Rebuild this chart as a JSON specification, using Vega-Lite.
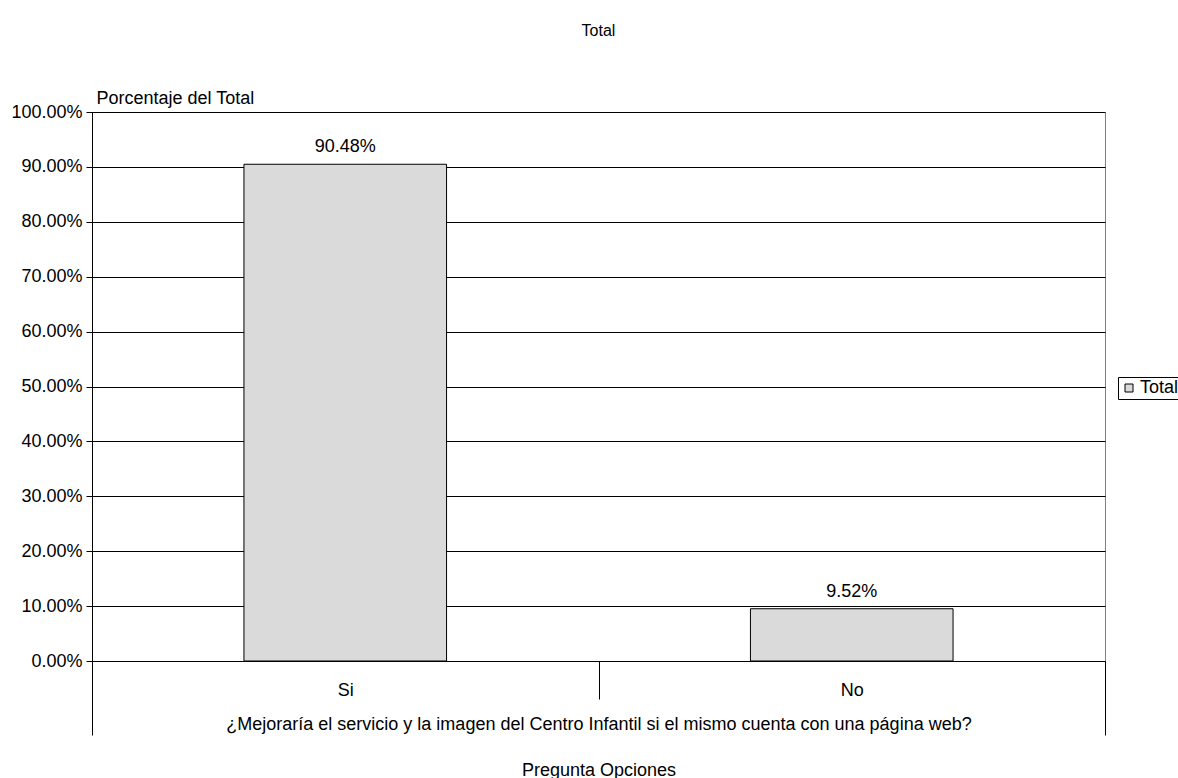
{
  "$schema": "https://vega.github.io/schema/vega-lite/v6.json",
  "width": 1013,
  "height": 549,
  "autosize": {"type": "none"},
  "padding": {"left": 92, "top": 112, "right": 73, "bottom": 117},
  "background": "white",
  "title": {"text": "Total", "anchor": "middle", "offset": 50, "fontSize": 16, "fontWeight": "normal", "font": "Liberation Sans", "color": "black"},
  "data": {"values": [
    {"opcion": "Si", "serie": "Total", "porcentaje": 0.9048},
    {"opcion": "No", "serie": "Total", "porcentaje": 0.0952}
  ]},
  "encoding": {
    "x": {
      "field": "opcion", "type": "nominal", "sort": ["Si", "No"],
      "scale": {"paddingInner": 0, "paddingOuter": 0},
      "axis": {
        "title": ["¿Mejoraría el servicio y la imagen del Centro Infantil si el mismo cuenta con una página web?", "Pregunta Opciones"],
        "titleFont": "Liberation Sans", "titleFontSize": 18, "titleFontWeight": "normal", "titleColor": "black",
        "titleLineHeight": 46, "titleBaseline": "top", "titleY": 54,
        "labelAngle": 0, "labelFont": "Liberation Sans", "labelFontSize": 18, "labelColor": "black",
        "labelPadding": {"condition": {"test": "datum.value === 'Si'", "value": -18}, "value": -54},
        "tickBand": "extent",
        "tickSize": {"condition": {"test": "datum.value === 'Si'", "value": 38}, "value": 74},
        "tickColor": "black",
        "domainColor": "black", "grid": false
      }
    },
    "y": {
      "field": "porcentaje", "type": "quantitative",
      "scale": {"domain": [0, 1], "nice": false},
      "axis": {
        "values": [0, 0.1, 0.2, 0.3, 0.4, 0.5, 0.6, 0.7, 0.8, 0.9, 1],
        "format": ".2%",
        "title": "Porcentaje del Total",
        "titleAngle": 0, "titleAlign": "left", "titleBaseline": "middle",
        "titleX": 4, "titleY": -14,
        "titleFont": "Liberation Sans", "titleFontSize": 18, "titleFontWeight": "normal", "titleColor": "black",
        "labelFont": "Liberation Sans", "labelFontSize": 18, "labelColor": "black", "labelPadding": 4,
        "tickSize": 6, "tickColor": "black", "domainColor": "black",
        "grid": true, "gridColor": "black", "gridOpacity": 1
      }
    }
  },
  "layer": [
    {
      "mark": {"type": "bar", "width": {"band": 0.4}, "stroke": "black", "strokeWidth": 1},
      "encoding": {
        "color": {
          "field": "serie", "type": "nominal",
          "scale": {"range": ["#dadada"]},
          "legend": {
            "title": null, "orient": "none", "legendX": 1026, "legendY": 265,
            "strokeColor": "black", "padding": 2,
            "symbolType": "square", "symbolSize": 64, "symbolStrokeColor": "black", "symbolStrokeWidth": 1,
            "labelFont": "Liberation Sans", "labelFontSize": 18, "labelColor": "black", "labelOffset": 2
          }
        }
      }
    },
    {
      "mark": {"type": "text", "baseline": "alphabetic", "dy": -12, "font": "Liberation Sans", "fontSize": 18, "color": "black"},
      "encoding": {
        "text": {"field": "porcentaje", "type": "quantitative", "format": ".2%"}
      }
    }
  ],
  "config": {
    "view": {"stroke": "#808080", "strokeWidth": 1}
  }
}
